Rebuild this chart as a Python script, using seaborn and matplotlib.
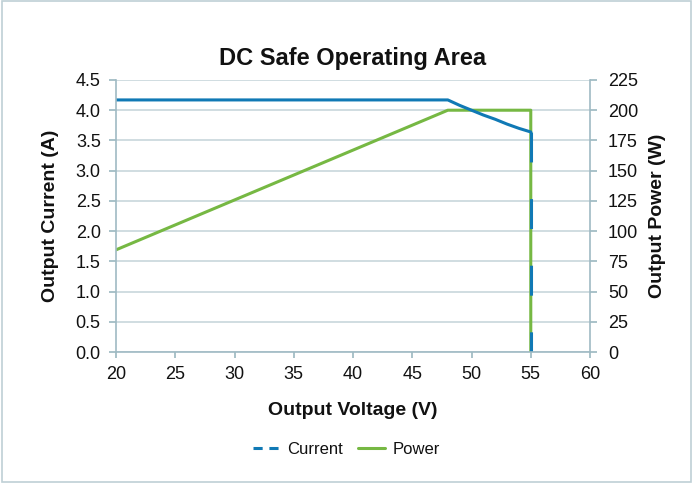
import matplotlib
matplotlib.use("Agg")
import matplotlib.pyplot as plt
from matplotlib.lines import Line2D
import seaborn as sns
import pandas as pd

# Data
voltage_current = [20, 48, 49, 50, 51, 52, 53, 54, 55, 55]
current_a = [4.17, 4.17, 4.08, 4.00, 3.92, 3.85, 3.77, 3.70, 3.64, 0.0]
voltage_power = [20, 48, 55, 55]
power_w = [84.5, 200, 200, 0]

x_ticks = [20, 25, 30, 35, 40, 45, 50, 55, 60]
left_ticks = [0.0, 0.5, 1.0, 1.5, 2.0, 2.5, 3.0, 3.5, 4.0, 4.5]
right_ticks = [0, 25, 50, 75, 100, 125, 150, 175, 200, 225]

sns.set_theme(style="white")
plt.rcParams['font.family'] = ['Liberation Sans', 'DejaVu Sans']

blue = "#1079B5"
green = "#76B843"
grid_c = "#C8D7DC"
spine_c = "#9FBAC3"
text_c = "#111111"

fig = plt.figure(figsize=(6.93, 4.83), dpi=100)
fig.patch.set_facecolor("white")
fig.patches.append(plt.Rectangle((0.003, 0.003), 0.994, 0.994, transform=fig.transFigure,
                                 fill=False, edgecolor="#BFD0D6", linewidth=1.2))

ax = fig.add_axes([0.1674, 0.2712, 0.8514 - 0.1674, 0.8344 - 0.2712])
ax2 = ax.twinx()

dfc = pd.DataFrame({"V": voltage_current, "I": current_a})
dfp = pd.DataFrame({"V": voltage_power, "P": power_w})

# ax2 (power + grid) beneath ax (current)
ax2.set_zorder(1)
ax.set_zorder(2)
ax.patch.set_visible(False)

sns.lineplot(data=dfp, x="V", y="P", ax=ax2, color=green, linewidth=2.2,
             sort=False, estimator=None, legend=False)
n = len(dfc)
sns.lineplot(data=dfc.iloc[:n - 1], x="V", y="I", ax=ax, color=blue, linewidth=2.2,
             sort=False, estimator=None, legend=False)
sns.lineplot(data=dfc.iloc[n - 2:], x="V", y="I", ax=ax, color=blue, linewidth=2.2,
             sort=False, estimator=None, legend=False)
ax.lines[-1].set_dashes([9.8, 12])
ax.lines[-1].set_dash_capstyle("butt")

ax.set_xlim(20, 60)
ax.set_ylim(0, 4.5)
ax2.set_ylim(0, 225)
ax.set_xticks(x_ticks)
ax.set_yticks(left_ticks)
ax2.set_yticks(right_ticks)
ax.set_yticklabels([f"{t:.1f}" for t in left_ticks])
ax2.set_yticklabels([f"{t}" for t in right_ticks])

ax.grid(False)
ax2.grid(True, axis="both", color=grid_c, linewidth=1.2)
ax2.xaxis.grid(True, color=grid_c, linewidth=1.2)
ax2.set_axisbelow(True)

for a in (ax, ax2):
    for s in a.spines.values():
        s.set_visible(False)
ax.spines["left"].set_visible(True)
ax.spines["left"].set_color(spine_c)
ax.spines["left"].set_linewidth(1.2)
ax.spines["bottom"].set_visible(True)
ax.spines["bottom"].set_color(spine_c)
ax.spines["bottom"].set_linewidth(1.2)
ax2.spines["right"].set_visible(True)
ax2.spines["right"].set_color(spine_c)
ax2.spines["right"].set_linewidth(1.2)

ax.tick_params(axis="y", which="major", left=True, length=5, color=spine_c, labelsize=13,
               pad=6, labelcolor=text_c)
ax.tick_params(axis="x", which="major", bottom=True, length=4, color=spine_c, labelsize=13,
               pad=6, labelcolor=text_c)
ax2.tick_params(axis="y", which="major", right=True, length=5, color=spine_c, labelsize=13,
                pad=8, labelcolor=text_c)

ax.set_xlabel("Output Voltage (V)", fontsize=14, fontweight="bold", labelpad=14, color=text_c)
ax.set_ylabel("Output Current (A)", fontsize=14, fontweight="bold", labelpad=12, color=text_c)
ax2.set_ylabel("Output Power (W)", fontsize=14, fontweight="bold", labelpad=8, rotation=90,
               color=text_c)
ax.set_title("DC Safe Operating Area", fontsize=17, fontweight="bold", pad=11, color=text_c)

handles = [Line2D([0], [0], color=blue, linewidth=2.2, dashes=[3, 2.2]),
           Line2D([0], [0], color=green, linewidth=2.2)]
leg = fig.legend(handles, ["Current", "Power"], loc="center", bbox_to_anchor=(0.5, 0.07),
                 ncol=2, frameon=False, fontsize=12, handlelength=1.6, columnspacing=0.9,
                 handletextpad=0.45)
for t in leg.get_texts():
    t.set_color(text_c)

fig.savefig("out.png", dpi=100, facecolor="white")
